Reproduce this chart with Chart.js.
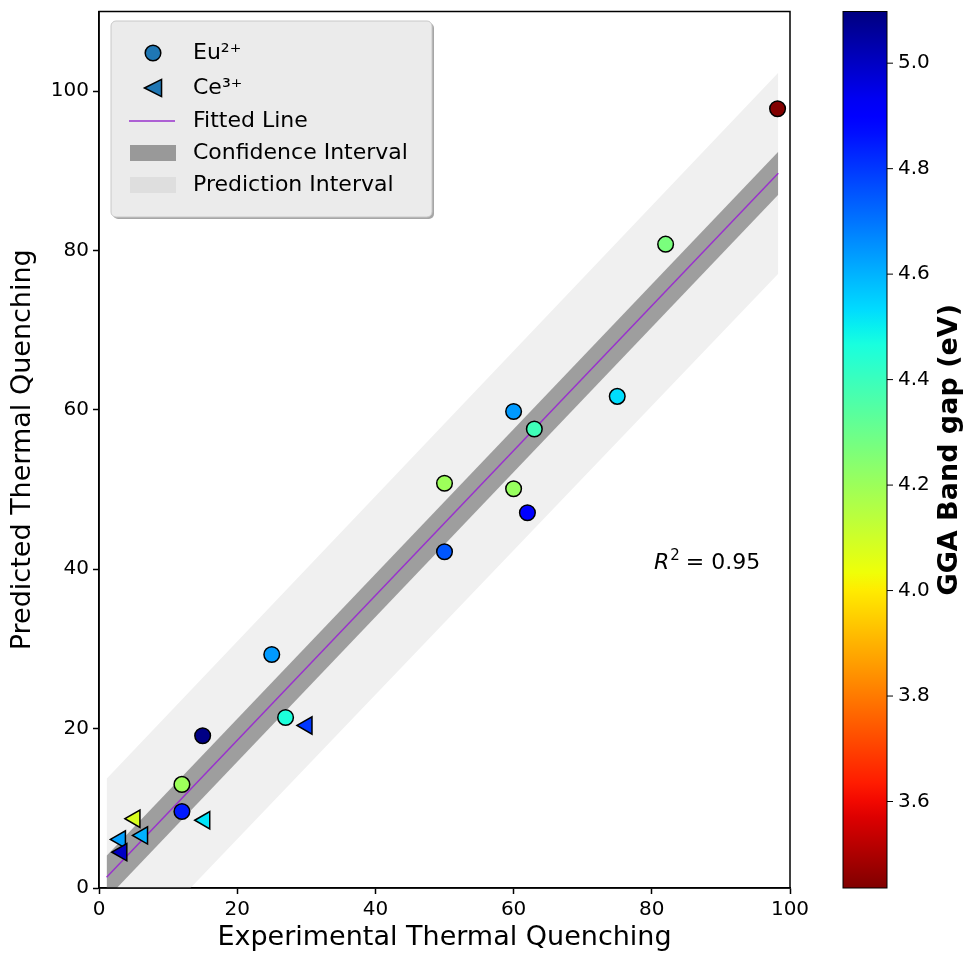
<!DOCTYPE html>
<html>
<head>
<meta charset="utf-8">
<title>Predicted vs Experimental Thermal Quenching</title>
<script src="https://cdn.jsdelivr.net/npm/chart.js@4.4.1/dist/chart.umd.min.js"></script>
<style>
  html, body { margin: 0; padding: 0; background: #fff; overflow: hidden; }
  #wrap { width: 968px; height: 955px; position: relative; }
</style>
</head>
<body>
<div id="wrap"><canvas id="chart"></canvas></div>
<script>
/* ─── Data ─────────────────────────────────────────────────────────── */
// Eu2+ phosphors: experimental vs predicted thermal quenching, GGA band gap (eV)
const euX   = [15, 12, 12, 27, 25, 50, 50, 60, 62, 60, 63, 75, 82, 98.2];
const euY   = [19.1, 13.0, 9.6, 21.4, 29.3, 42.2, 50.8, 50.1, 47.1, 59.8, 57.6, 61.7, 80.8, 97.8];
const euGap = [5.09, 4.20, 4.85, 4.46, 4.64, 4.75, 4.20, 4.21, 4.90, 4.64, 4.39, 4.53, 4.27, 3.44];

// Ce3+ phosphors
const ceX   = [15.3, 5.2, 6.3, 3.1, 3.3, 30.1];
const ceY   = [8.5, 8.7, 6.6, 6.1, 4.5, 20.4];
const ceGap = [4.52, 4.08, 4.60, 4.63, 5.00, 4.80];

// Fitted line and its bands (end points)
const fitX     = [1.1, 98.3];
const fitY     = [1.34, 89.7];
const ciUpper  = [4.05, 92.4];
const ciLower  = [-1.35, 87.0];
const piUpper  = [13.7, 102.3];
const piLower  = [-11.0, 77.1];

// Axes / colour bar
const xTicks   = [0, 20, 40, 60, 80, 100];
const yTicks   = [0, 20, 40, 60, 80, 100];
const cbMin    = 3.436;
const cbMax    = 5.098;
const cbTicks  = [3.6, 3.8, 4.0, 4.2, 4.4, 4.6, 4.8, 5.0];
const r2Text   = '0.95';

/* ─── Colormap (reversed jet) ──────────────────────────────────────── */
const JET = {
  r: [[0, 0], [0.35, 0], [0.66, 1], [0.89, 1], [1, 0.5]],
  g: [[0, 0], [0.125, 0], [0.375, 1], [0.64, 1], [0.91, 0], [1, 0]],
  b: [[0, 0.5], [0.11, 1], [0.34, 1], [0.65, 0], [1, 0]]
};
function seg(pts, t) {
  for (let i = 1; i < pts.length; i++) {
    if (t <= pts[i][0]) {
      const [x0, y0] = pts[i - 1], [x1, y1] = pts[i];
      return y0 + (y1 - y0) * (t - x0) / (x1 - x0);
    }
  }
  return pts[pts.length - 1][1];
}
function jet(t) {
  t = Math.min(1, Math.max(0, t));
  const c = k => Math.round(seg(JET[k], t) * 255);
  return `rgb(${c('r')},${c('g')},${c('b')})`;
}
// high band gap = navy, low = dark red
function gapColor(v) { return jet((cbMax - v) / (cbMax - cbMin)); }

const pts = (xs, ys) => xs.map((x, i) => ({ x, y: ys[i] }));

const FONT = "'DejaVu Sans', 'Noto Sans', sans-serif";
const PURPLE = '#9932cc';
const MARKER_DEFAULT = '#1f77b4';

/* ─── Plugins ──────────────────────────────────────────────────────── */
const framePlugin = {
  id: 'frame',
  afterDraw(chart) {
    const { ctx, chartArea: a } = chart;
    ctx.save();
    ctx.strokeStyle = '#000';
    ctx.lineWidth = 1.5;
    ctx.strokeRect(a.left, a.top, a.right - a.left, a.bottom - a.top);
    ctx.restore();
  }
};

const colorbarPlugin = {
  id: 'colorbar',
  afterDraw(chart) {
    const { ctx } = chart;
    const cb = chart.scales.cb;
    const x0 = 843, w = 44;
    const top = cb.getPixelForValue(cbMax), bottom = cb.getPixelForValue(cbMin);
    ctx.save();
    const grad = ctx.createLinearGradient(0, top, 0, bottom);
    for (let i = 0; i <= 50; i++) grad.addColorStop(i / 50, jet(i / 50));
    ctx.fillStyle = grad;
    ctx.fillRect(x0, top, w, bottom - top);
    ctx.strokeStyle = '#000';
    ctx.lineWidth = 1;
    ctx.strokeRect(x0, top, w, bottom - top);

    ctx.font = `20px ${FONT}`;
    ctx.fillStyle = '#000';
    ctx.textAlign = 'left';
    ctx.textBaseline = 'middle';
    cbTicks.forEach(v => {
      const y = cb.getPixelForValue(v);
      ctx.beginPath();
      ctx.moveTo(x0 + w, y);
      ctx.lineTo(x0 + w + 6, y);
      ctx.stroke();
      ctx.fillText(v.toFixed(1), x0 + w + 11, y);
    });

    // colour bar label
    ctx.translate(950, (top + bottom) / 2);
    ctx.rotate(-Math.PI / 2);
    ctx.textAlign = 'center';
    ctx.font = `bold 27px ${FONT}`;
    ctx.fillText('GGA Band gap (eV)', 0, 0);
    ctx.restore();
  }
};

function drawLeftTriangle(ctx, cx, cy, r, fill) {
  ctx.beginPath();
  ctx.moveTo(cx - r * 0.9, cy);
  ctx.lineTo(cx + r * 0.9, cy - r * 0.9);
  ctx.lineTo(cx + r * 0.9, cy + r * 0.9);
  ctx.closePath();
  ctx.fillStyle = fill;
  ctx.fill();
  ctx.stroke();
}

const legendPlugin = {
  id: 'boxLegend',
  afterDraw(chart) {
    const { ctx } = chart;
    const bx = 111, by = 21, bw = 321, bh = 196;
    ctx.save();
    // shadow + box
    ctx.fillStyle = 'rgba(0,0,0,0.35)';
    ctx.beginPath(); ctx.roundRect(bx + 2, by + 2, bw, bh, 5); ctx.fill();
    ctx.fillStyle = '#ebebeb';
    ctx.strokeStyle = '#c8c8c8';
    ctx.lineWidth = 1;
    ctx.beginPath(); ctx.roundRect(bx, by, bw, bh, 5); ctx.fill(); ctx.stroke();

    const rows = [53, 88, 121, 153, 185];
    const mx = 153, tx = 193;

    ctx.strokeStyle = '#000';
    ctx.lineWidth = 1.5;
    ctx.fillStyle = MARKER_DEFAULT;
    ctx.beginPath(); ctx.arc(mx, rows[0], 7.8, 0, Math.PI * 2); ctx.fill(); ctx.stroke();
    drawLeftTriangle(ctx, mx, rows[1], 9.5, MARKER_DEFAULT);

    ctx.strokeStyle = PURPLE;
    ctx.beginPath(); ctx.moveTo(129, rows[2]); ctx.lineTo(175, rows[2]); ctx.stroke();

    ctx.fillStyle = '#999999';
    ctx.fillRect(130, rows[3] - 8, 46, 16);
    ctx.fillStyle = '#dedede';
    ctx.fillRect(130, rows[4] - 8, 46, 16);

    ctx.fillStyle = '#000';
    ctx.font = `22px ${FONT}`;
    ctx.textAlign = 'left';
    ctx.textBaseline = 'middle';
    ['Eu²⁺', 'Ce³⁺', 'Fitted Line', 'Confidence Interval', 'Prediction Interval']
      .forEach((t, i) => ctx.fillText(t, tx, rows[i]));
    ctx.restore();
  }
};

const r2Plugin = {
  id: 'r2',
  afterDraw(chart) {
    const { ctx } = chart;
    ctx.save();
    ctx.fillStyle = '#000';
    ctx.textBaseline = 'alphabetic';
    let x = 654;
    const y = 569;
    ctx.font = `italic 22px ${FONT}`;
    ctx.fillText('R', x, y);
    x += ctx.measureText('R').width + 1;
    ctx.font = `15px ${FONT}`;
    ctx.fillText('2', x, y - 9);
    x += ctx.measureText('2').width + 6;
    ctx.font = `22px ${FONT}`;
    ctx.fillText('= ' + r2Text, x, y);
    ctx.restore();
  }
};

/* ─── Chart ────────────────────────────────────────────────────────── */
Chart.defaults.font.family = FONT;
Chart.defaults.color = '#000';

const axisCommon = {
  type: 'linear',
  border: { display: true, color: '#000', width: 1.5 },
  grid: { display: true, drawOnChartArea: false, drawTicks: true, tickLength: 6, tickWidth: 1.5, tickColor: '#000' },
  ticks: { font: { size: 20 }, padding: 4 }
};

new Chart(document.getElementById('chart'), {
  type: 'scatter',
  data: {
    datasets: [
      { type: 'line', label: 'pi-up', data: pts(fitX, piUpper), fill: '+1',
        backgroundColor: '#f0f0f0', borderWidth: 0, pointRadius: 0, order: 6 },
      { type: 'line', label: 'pi-lo', data: pts(fitX, piLower), fill: false,
        borderWidth: 0, pointRadius: 0, order: 5 },
      { type: 'line', label: 'ci-up', data: pts(fitX, ciUpper), fill: '+1',
        backgroundColor: '#9e9e9e', borderWidth: 0, pointRadius: 0, order: 4 },
      { type: 'line', label: 'ci-lo', data: pts(fitX, ciLower), fill: false,
        borderWidth: 0, pointRadius: 0, order: 3 },
      { type: 'line', label: 'Fitted Line', data: pts(fitX, fitY), fill: false,
        borderColor: PURPLE, borderWidth: 1.5, pointRadius: 0, order: 2 },
      { label: 'Eu2+', data: pts(euX, euY), pointStyle: 'circle',
        backgroundColor: euGap.map(gapColor), borderColor: '#000', borderWidth: 1.5,
        pointRadius: 7.8, order: 1 },
      { label: 'Ce3+', data: pts(ceX, ceY), pointStyle: 'triangle', rotation: 270,
        backgroundColor: ceGap.map(gapColor), borderColor: '#000', borderWidth: 1.5,
        pointRadius: 10, order: 0 }
    ]
  },
  options: {
    responsive: true,
    maintainAspectRatio: false,
    animation: false,
    events: [],
    layout: { padding: { top: 10, right: 178, bottom: 0, left: 0 } },
    plugins: { legend: { display: false }, tooltip: { enabled: false } },
    scales: {
      x: {
        ...axisCommon,
        position: 'bottom',
        min: 0, max: 100,
        afterBuildTicks: s => { s.ticks = xTicks.map(v => ({ value: v })); },
        afterFit: s => { s.height = 67; s.paddingLeft = 0; s.paddingRight = 0; },
        title: { display: true, text: 'Experimental Thermal Quenching', font: { size: 27 }, padding: { top: 0, bottom: 1 } }
      },
      y: {
        ...axisCommon,
        position: 'left',
        min: 0, max: 110,
        afterBuildTicks: s => { s.ticks = yTicks.map(v => ({ value: v })); },
        afterFit: s => { s.width = 99; s.paddingTop = 0; s.paddingBottom = 0; },
        title: { display: true, text: 'Predicted Thermal Quenching', font: { size: 27 }, padding: { top: 7, bottom: 0 } }
      },
      cb: {
        type: 'linear',
        axis: 'y',
        position: 'right',
        min: cbMin, max: cbMax,
        ticks: { display: false },
        grid: { display: false },
        border: { display: false },
        afterFit: s => { s.width = 0; s.paddingTop = 0; s.paddingBottom = 0; }
      }
    }
  },
  plugins: [framePlugin, legendPlugin, r2Plugin, colorbarPlugin]
});
</script>
</body>
</html>
